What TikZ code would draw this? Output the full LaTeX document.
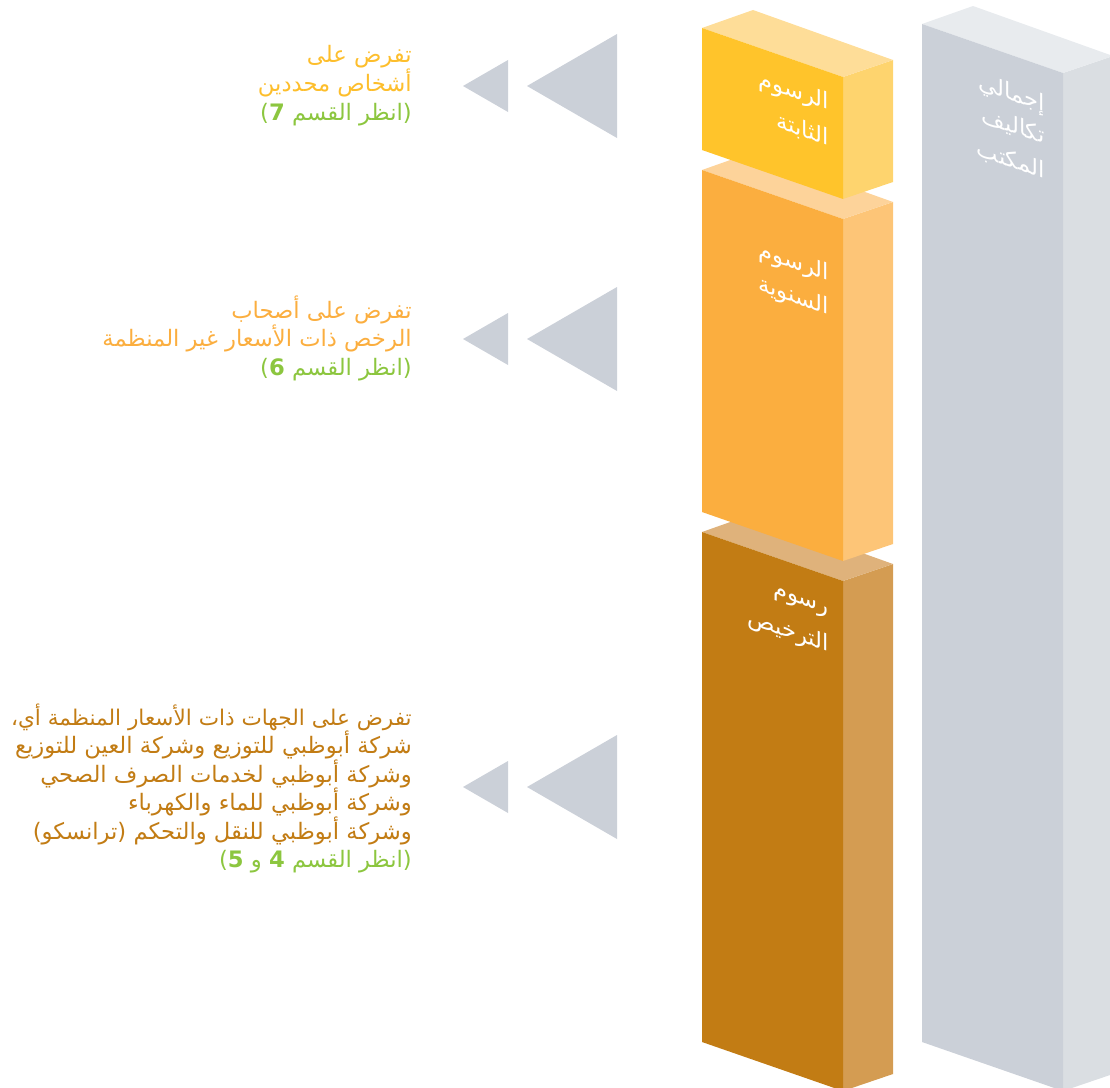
\documentclass[tikz,border=0pt]{standalone}
\usepackage{fontspec}
\setmainfont{DejaVu Sans}
\TeXXeTstate=1
\newfontfamily\arabicfont[Script=Arabic]{DejaVu Sans}
\newcommand{\AR}[1]{{\arabicfont\beginR #1\endR}}
\newcommand{\LP}{\hbox{\normalfont(}}
\newcommand{\RP}{\hbox{\normalfont)}}
\definecolor{ylwF}{HTML}{FFC42B}
\definecolor{ylwT}{HTML}{FEDD98}
\definecolor{ylwR}{HTML}{FED46E}
\definecolor{orgF}{HTML}{FBAE3F}
\definecolor{orgT}{HTML}{FDD39A}
\definecolor{orgR}{HTML}{FDC577}
\definecolor{brnF}{HTML}{C27C14}
\definecolor{brnT}{HTML}{DFB27B}
\definecolor{brnR}{HTML}{D49C52}
\definecolor{gryF}{HTML}{CBD0D8}
\definecolor{gryT}{HTML}{E8EBEE}
\definecolor{gryR}{HTML}{DADEE2}
\definecolor{ylwTx}{HTML}{FDBE2C}
\definecolor{orgTx}{HTML}{FBAE3F}
\definecolor{brnTx}{HTML}{C27C14}
\definecolor{grnTx}{HTML}{8CC63F}
\tikzset{
  sidetext/.style={anchor=base east, inner sep=0pt, font=\fontsize{17}{20}\selectfont},
  boxlabel/.style={anchor=base east, inner sep=0pt, text=white, yslant=-0.3475, font=\fontsize{17}{20}\selectfont},
  arrowtri/.style={fill=gryF, draw=none},
}
% box: #1 x0, #2 top y, #3 bottom y, #4 front, #5 top, #6 right
\newcommand{\isobox}[6]{%
  \fill[#6] (#1+141,#2+49) -- (#1+191,#2+32) -- (#1+191,#3+32) -- (#1+141,#3+49) -- cycle;
  \fill[#5] (#1,#2) -- (#1+51,#2-18) -- (#1+191,#2+32) -- (#1+141,#2+49) -- cycle;
  \fill[#4] (#1,#2) -- (#1+141,#2+49) -- (#1+141,#3+49) -- (#1,#3) -- cycle;
}
\begin{document}
\begin{tikzpicture}[x=0.75pt,y=-0.75pt]
\useasboundingbox (0,0) rectangle (1110,1088);
\begin{scope}
\clip (0,0) rectangle (1110,1088);
% grey total column
\isobox{922}{24}{1042}{gryF}{gryT}{gryR}
% brown licence fees
\isobox{702}{532}{1042}{brnF}{brnT}{brnR}
% orange annual fees
\isobox{702}{170}{512}{orgF}{orgT}{orgR}
% yellow fixed fees
\isobox{702}{28}{150}{ylwF}{ylwT}{ylwR}
\end{scope}

% box labels
\node[boxlabel] (l1a) at (829,110) {\AR{الرسوم}};
\node[boxlabel] (l1b) at (829,146) {\AR{الثابتة}};
\node[boxlabel] (l2a) at (829,281) {\AR{الرسوم}};
\node[boxlabel] (l2b) at (829,315) {\AR{السنوية}};
\node[boxlabel] (l3a) at (829,614) {\AR{رسوم}};
\node[boxlabel] (l3b) at (829,652) {\AR{الترخيص}};
\node[boxlabel] (l4a) at (1045,112) {\AR{إجمالي}};
\node[boxlabel] (l4b) at (1045,144) {\AR{تكاليف}};
\node[boxlabel] (l4c) at (1045,179) {\AR{المكتب}};

% arrow triangles
\foreach \cy in {86, 339, 787}{
  \fill[arrowtri] (527,\cy) -- (617,\cy-52) -- (617,\cy+52) -- cycle;
  \fill[arrowtri] (463,\cy) -- (508,\cy-26) -- (508,\cy+26) -- cycle;
}

% side texts
\node[sidetext, text=ylwTx] (t1a) at (412,63) {\AR{تفرض على}};
\node[sidetext, text=ylwTx] (t1b) at (412,92) {\AR{أشخاص محددين}};
\node[sidetext, text=grnTx] (t1c) at (412,120) {\AR{\RP انظر القسم \textbf{7}\LP}};

\node[sidetext, text=orgTx] (t2a) at (412,318) {\AR{تفرض على أصحاب}};
\node[sidetext, text=orgTx] (t2b) at (412,346) {\AR{الرخص ذات الأسعار غير المنظمة}};
\node[sidetext, text=grnTx] (t2c) at (412,375) {\AR{\RP انظر القسم \textbf{6}\LP}};

\node[sidetext, text=brnTx, font=\fontsize{16.2}{20}\selectfont] (t3a) at (412,725) {\AR{تفرض على الجهات ذات الأسعار المنظمة أي،}};
\node[sidetext, text=brnTx] (t3b) at (412,753) {\AR{شركة أبوظبي للتوزيع وشركة العين للتوزيع}};
\node[sidetext, text=brnTx] (t3c) at (412,782) {\AR{وشركة أبوظبي لخدمات الصرف الصحي}};
\node[sidetext, text=brnTx] (t3d) at (412,810) {\AR{وشركة  أبوظبي للماء والكهرباء}};
\node[sidetext, text=brnTx] (t3e) at (412,839) {\AR{وشركة أبوظبي للنقل والتحكم \RP ترانسكو\LP}};
\node[sidetext, text=grnTx] (t3f) at (412,867) {\AR{\RP انظر القسم \textbf{4} و \textbf{5}\LP}};
\end{tikzpicture}
\end{document}
